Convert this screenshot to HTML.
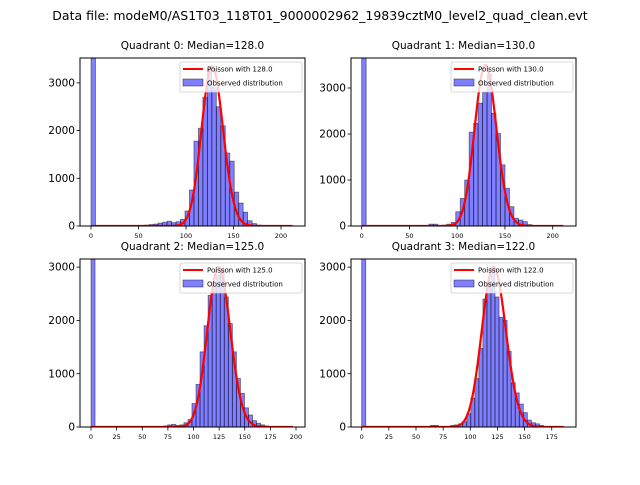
<!DOCTYPE html>
<html><head><meta charset="utf-8"><style>
body{margin:0;background:#fff;width:640px;height:480px;overflow:hidden;font-family:"Liberation Sans","DejaVu Sans",sans-serif}
svg text{font-family:"DejaVu Sans","Liberation Sans",sans-serif}
</style></head><body>
<svg id="chart" width="640" height="480" xmlns="http://www.w3.org/2000/svg">
<rect width="640" height="480" fill="#fff"/>
<text x="320" y="20" font-size="12.5" text-anchor="middle">Data file: modeM0/AS1T03_118T01_9000002962_19839cztM0_level2_quad_clean.evt</text>
</svg>
<script>
const titles = ["Quadrant 0: Median=128.0","Quadrant 1: Median=130.0","Quadrant 2: Median=125.0","Quadrant 3: Median=122.0"];
const medians = [128, 130, 125, 122];
const curvePeaks = [3350, 3500, 3000, 3000];
const maxValues = [212, 211, 197, 186];
const binCounts = [45, 45, 50, 50];
const zeroBinCounts = [8000, 8000, 8000, 8000];
const countsQ0 = {12:20,13:30,14:40,15:60,16:80,17:100,18:70,19:90,20:140,21:315,22:755,23:1780,24:2050,25:2700,26:3300,27:2900,28:2500,29:2100,30:1530,31:1360,32:710,33:480,34:290,35:110,36:50,37:20,38:10};
const countsQ1 = {15:40,16:40,17:10,18:20,19:40,20:80,21:310,22:600,23:1000,24:2040,25:2230,26:2670,27:2900,28:3300,29:2450,30:2010,31:1330,32:820,33:420,34:170,35:130,36:95,37:30,38:10};
const countsQ2 = {17:10,18:20,19:40,20:50,21:30,22:40,23:80,24:140,25:440,26:800,27:1410,28:1900,29:2470,30:2650,31:2850,32:2960,33:2440,34:1940,35:1410,36:910,37:630,38:360,39:225,40:120,41:70,42:40,43:20,44:10};
const countsQ3 = {17:30,18:30,19:10,22:30,23:40,24:60,25:100,26:250,27:540,28:910,29:1475,30:2400,31:2700,32:2975,33:2440,34:2060,35:2000,36:1420,37:830,38:640,39:430,40:270,41:130,42:80,43:60,44:30,45:10};
const allCounts = [countsQ0, countsQ1, countsQ2, countsQ3];
const xTicksQ = [[0,50,100,150,200],[0,50,100,150,200],[0,25,50,75,100,125,150,175,200],[0,25,50,75,100,125,150,175]];
const yTicks = [0,1000,2000,3000];

// layout (not data)
const panels = [
 {l:80,r:305,t:58,b:226,x0:91,xs:0.95,ys:0.0477},
 {l:351,r:576,t:58,b:226,x0:361.7,xs:0.955,ys:0.046},
 {l:80,r:305,t:259,b:427,x0:91,xs:1.025,ys:0.0533},
 {l:351,r:576,t:259,b:427,x0:361.7,xs:1.086,ys:0.0533}
];
const NS="http://www.w3.org/2000/svg";
const svg=document.getElementById('chart');
function mk(tag,attrs,parent){const e=document.createElementNS(NS,tag);for(const k in attrs)e.setAttribute(k,attrs[k]);(parent||svg).appendChild(e);return e;}
function lgamma(n){let s=0;for(let i=2;i<=n;i++)s+=Math.log(i);return s;}
function pois(k,l){return Math.exp(k*Math.log(l)-l-lgamma(k));}

panels.forEach((p,q)=>{
  const xS=v=>p.x0+v*p.xs;
  const yS=v=>p.b-v*p.ys;
  const g=mk('g',{});
  
  
  const clipId='clip'+q;
  const cp=mk('clipPath',{id:clipId},g);
  mk('rect',{x:p.l,y:p.t,width:p.r-p.l,height:p.b-p.t},cp);
  const bars=mk('g',{'clip-path':'url(#'+clipId+')'},g);
  const w=maxValues[q]/binCounts[q];
  const cnt=allCounts[q];
  for(let i=0;i<binCounts[q];i++){
    const v=i===0?zeroBinCounts[q]:(cnt[i]||0);
    const x1=xS(i*w),x2=xS((i+1)*w);
    const y=yS(v);
    const r=mk('rect',{x:x1,y:y,width:x2-x1,height:p.b-y,fill:'rgba(0,0,255,0.5)',stroke:'rgba(0,0,0,0.5)','stroke-width':0.8},bars);
    
    
  }
  const lam=medians[q];const pk=pois(lam,lam);
  let d='';
  for(let k=0;k<=Math.round(maxValues[q]);k++){
    const v=curvePeaks[q]*pois(k,lam)/pk;
    d+=(k?'L':'M')+xS(k).toFixed(2)+','+yS(v).toFixed(2);
  }
  const path=mk('path',{d:d,fill:'none',stroke:'#ff0000','stroke-width':2.2,'clip-path':'url(#'+clipId+')'},g);
  
  
  const fr=mk('rect',{x:p.l,y:p.t,width:p.r-p.l,height:p.b-p.t,fill:'none',stroke:'#000','stroke-width':1},g);
  
  
  xTicksQ[q].forEach(t=>{
    const x=xS(t);
    mk('line',{x1:x,x2:x,y1:p.b,y2:p.b+3.5,stroke:'#000','stroke-width':0.8},g);
    const tx=mk('text',{x:x,y:p.b+12,'font-size':6.5,'text-anchor':'middle'},g);
    tx.textContent=t;
    
    
  });
  yTicks.forEach(t=>{
    const y=yS(t);
    mk('line',{x1:p.l-3.5,x2:p.l,y1:y,y2:y,stroke:'#000','stroke-width':0.8},g);
    const tx=mk('text',{x:p.l-5,y:y+3.6,'font-size':10.5,'text-anchor':'end'},g);
    tx.textContent=t;
    
    
  });
  const ti=mk('text',{x:(p.l+p.r)/2,y:p.t-9,'font-size':10.5,'text-anchor':'middle'},g);
  ti.textContent=titles[q];
  
  
  const lg=mk('g',{},g);
  
  
  const lx=p.r-125,ly=p.t+4;
  mk('rect',{x:lx,y:ly,width:122,height:30,rx:2,fill:'rgba(255,255,255,0.8)',stroke:'#ccc','stroke-width':0.8},lg);
  mk('line',{x1:lx+3,x2:lx+23,y1:ly+7,y2:ly+7,stroke:'#ff0000','stroke-width':2},lg);
  const t1=mk('text',{x:lx+27,y:ly+9.5,'font-size':7},lg);
  t1.textContent='Poisson with '+medians[q].toFixed(1);
  
  
  mk('rect',{x:lx+3,y:ly+17,width:20,height:7,fill:'rgba(0,0,255,0.5)',stroke:'rgba(0,0,0,0.5)','stroke-width':0.8},lg);
  const t2=mk('text',{x:lx+27,y:ly+23.5,'font-size':7},lg);
  t2.textContent='Observed distribution';
  
  
});
</script>
</body></html>
